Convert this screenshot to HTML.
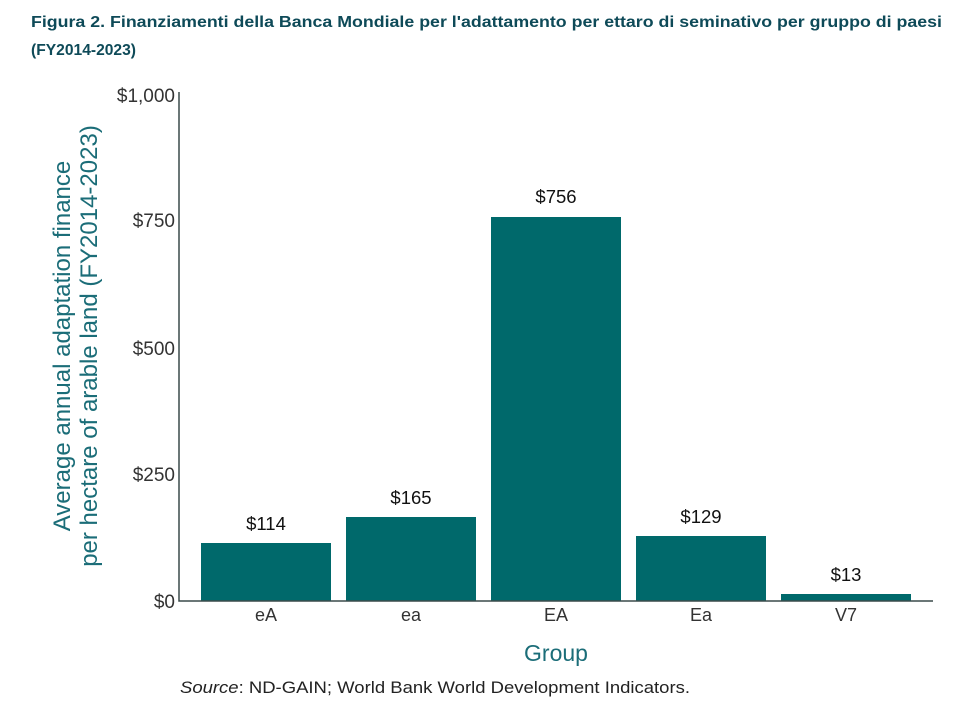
<!DOCTYPE html>
<html><head><meta charset="utf-8"><style>
body{margin:0;background:#fff;width:970px;height:717px;overflow:hidden}
</style></head><body>
<svg width="970" height="717" xmlns="http://www.w3.org/2000/svg" font-family="Liberation Sans, sans-serif">
<text x="31" y="27" font-size="16" font-weight="bold" fill="#0e4a58" textLength="911" lengthAdjust="spacingAndGlyphs">Figura 2. Finanziamenti della Banca Mondiale per l'adattamento per ettaro di seminativo per gruppo di paesi</text>
<text x="31" y="55" font-size="16" font-weight="bold" fill="#0e4a58" textLength="105" lengthAdjust="spacingAndGlyphs">(FY2014-2023)</text>
<g fill="#00696b">
<rect x="201" y="543" width="130" height="58"/>
<rect x="346" y="517" width="130" height="84"/>
<rect x="491" y="217" width="130" height="384"/>
<rect x="636" y="536" width="130" height="65"/>
<rect x="781" y="594" width="130" height="7"/>
</g>
<path d="M179 92V601H933" stroke="#3a4a4a" stroke-width="1.5" fill="none"/>
<g font-size="19" fill="#333" text-anchor="end">
<text x="175" y="102">$1,000</text>
<text x="175" y="227">$750</text>
<text x="175" y="355">$500</text>
<text x="175" y="481">$250</text>
<text x="175" y="608">$0</text>
</g>
<g font-size="18.5" fill="#111" text-anchor="middle">
<text x="266" y="530">$114</text>
<text x="411" y="504">$165</text>
<text x="556" y="203">$756</text>
<text x="701" y="523">$129</text>
<text x="846" y="581">$13</text>
</g>
<g font-size="18" fill="#333" text-anchor="middle">
<text x="266" y="621">eA</text>
<text x="411" y="621">ea</text>
<text x="556" y="621">EA</text>
<text x="701" y="621">Ea</text>
<text x="846" y="621">V7</text>
</g>
<text x="556" y="661" font-size="23" fill="#1b6d78" text-anchor="middle">Group</text>
<g font-size="24" fill="#1b6d78" text-anchor="middle">
<text transform="translate(70,346) rotate(-90)">Average annual adaptation finance</text>
<text transform="translate(97,346) rotate(-90)">per hectare of arable land (FY2014-2023)</text>
</g>
<text x="180" y="693" font-size="16.5" fill="#222" textLength="510" lengthAdjust="spacingAndGlyphs"><tspan font-style="italic">Source</tspan>: ND-GAIN; World Bank World Development Indicators.</text>
</svg>
</body></html>
